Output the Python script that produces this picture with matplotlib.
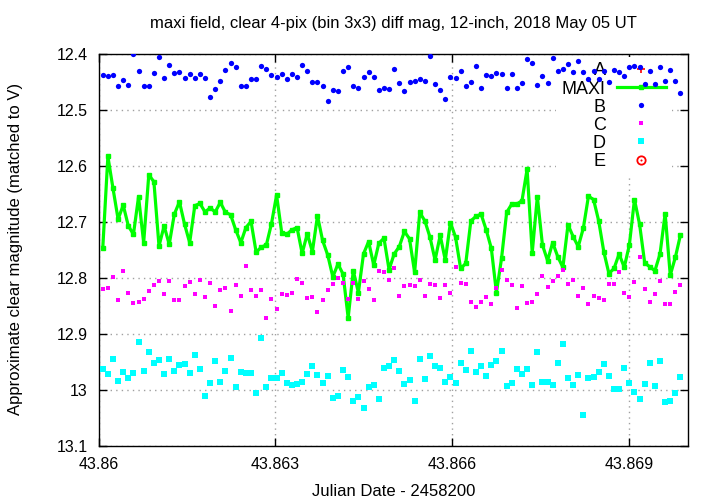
import matplotlib
matplotlib.use("Agg")
import matplotlib.pyplot as plt
import numpy as np
from matplotlib.lines import Line2D
from matplotlib.ticker import FormatStrFormatter

plt.rcParams['font.family'] = ['Liberation Sans', 'DejaVu Sans']

# frames every 7.5 s, first frame at JD 2458243.86007
T0 = 43.86007
CADENCE = 7.5 / 86400.0

maxi = [12.747, 12.583, 12.640, 12.695, 12.670, 12.707, 12.722, 12.655, 12.737, 12.616,
        12.628, 12.743, 12.707, 12.740, 12.686, 12.664, 12.704, 12.737, 12.671, 12.667,
        12.682, 12.675, 12.682, 12.665, 12.683, 12.687, 12.714, 12.737, 12.710, 12.699,
        12.754, 12.745, 12.741, 12.703, 12.652, 12.719, 12.722, 12.714, 12.710, 12.756,
        12.721, 12.753, 12.689, 12.733, 12.759, 12.798, 12.775, 12.793, 12.871, 12.787,
        12.826, 12.757, 12.735, 12.777, 12.738, 12.729, 12.785, 12.757, 12.744, 12.717,
        12.730, 12.790, 12.683, 12.698, 12.727, 12.768, 12.724, 12.768, 12.701, 12.727,
        12.783, 12.774, 12.698, 12.690, 12.686, 12.714, 12.747, 12.826, 12.765, 12.683,
        12.668, 12.668, 12.662, 12.606, 12.755, 12.655, 12.741, 12.769, 12.737, 12.762,
        12.781, 12.705, 12.726, 12.744, 12.711, 12.654, 12.660, 12.698, 12.753, 12.792,
        12.783, 12.757, 12.781, 12.741, 12.660, 12.704, 12.773, 12.780, 12.787, 12.757,
        12.685, 12.795, 12.763, 12.723]

star_b = [12.4375, 12.440, 12.4375, 12.458, 12.446, 12.455, 12.400, 12.431, 12.457, 12.457,
          12.434, 12.406, 12.443, 12.420, 12.434, 12.432, 12.443, 12.436, 12.443, 12.435,
          12.443, 12.476, 12.462, 12.449, 12.429, 12.417, 12.424, 12.457, 12.457, 12.444,
          12.444, 12.421, 12.427, 12.437, 12.442, 12.435, 12.444, 12.435, 12.441, 12.420,
          12.431, 12.450, 12.451, 12.458, 12.484, 12.464, 12.467, 12.431, 12.424, 12.457,
          12.460, 12.442, 12.433, 12.441, 12.464, 12.461, 12.463, 12.427, 12.452, 12.466,
          12.451, 12.448, 12.444, 12.449, 12.403, 12.453, 12.465, 12.480, 12.442, 12.443,
          12.430, 12.457, 12.451, 12.421, 12.461, 12.437, 12.439, 12.434, 12.435, 12.460,
          12.435, 12.461, 12.452, 12.409, 12.417, 12.455, 12.439, 12.452, 12.408, 12.430,
          12.427, 12.418, 12.432, 12.413, 12.432, 12.445, 12.430, 12.445, 12.430, 12.451,
          12.429, 12.433, 12.440, 12.424, 12.421, 12.423, 12.453, 12.430, 12.454, 12.424,
          12.449, 12.428, 12.449, 12.469]

star_c = [12.819, 12.818, 12.799, 12.840, 12.788, 12.827, 12.845, 12.842, 12.838, 12.823,
          12.813, 12.806, 12.828, 12.805, 12.839, 12.839, 12.814, 12.807, 12.829, 12.803,
          12.834, 12.809, 12.850, 12.821, 12.818, 12.859, 12.812, 12.833, 12.779, 12.821,
          12.832, 12.822, 12.871, 12.837, 12.855, 12.829, 12.830, 12.827, 12.802, 12.809,
          12.836, 12.834, 12.861, 12.840, 12.822, 12.811, 12.800, 12.809, 12.838, 12.809,
          12.838, 12.806, 12.820, 12.840, 12.788, 12.790, 12.803, 12.782, 12.832, 12.814,
          12.813, 12.814, 12.803, 12.832, 12.810, 12.812, 12.835, 12.813, 12.826, 12.780,
          12.809, 12.810, 12.843, 12.851, 12.843, 12.834, 12.847, 12.818, 12.785, 12.803,
          12.812, 12.853, 12.814, 12.844, 12.842, 12.829, 12.796, 12.816, 12.806, 12.796,
          12.786, 12.811, 12.804, 12.832, 12.818, 12.847, 12.833, 12.835, 12.840, 12.811,
          12.811, 12.789, 12.826, 12.834, 12.807, 12.763, 12.819, 12.843, 12.829, 12.805,
          12.846, 12.847, 12.825, 12.812]

star_d = [12.963, 12.972, 12.945, 12.983, 12.968, 12.979, 12.969, 12.914, 12.966, 12.932,
          12.951, 12.947, 12.972, 12.944, 12.966, 12.956, 12.953, 12.970, 12.938, 12.963,
          13.011, 12.987, 12.948, 12.985, 12.966, 12.943, 12.994, 12.968, 12.970, 12.970,
          13.005, 12.908, 12.994, 12.978, 12.978, 12.969, 12.987, 12.991, 12.989, 12.986,
          12.972, 12.957, 12.973, 12.988, 12.975, 13.015, 13.011, 12.964, 12.976, 13.020,
          13.013, 13.032, 12.994, 12.991, 13.016, 12.961, 12.958, 12.946, 12.966, 12.990,
          12.982, 13.019, 12.945, 12.980, 12.940, 12.957, 12.961, 12.985, 12.977, 12.988,
          12.951, 12.965, 12.930, 12.967, 12.957, 12.975, 12.956, 12.949, 12.930, 12.992,
          12.988, 12.963, 12.972, 12.963, 12.991, 12.933, 12.986, 12.985, 12.991, 12.951,
          12.918, 12.979, 12.991, 12.974, 13.044, 12.979, 12.976, 12.967, 12.954, 12.975,
          12.998, 12.999, 12.960, 12.988, 13.003, 13.016, 12.990, 12.952, 12.993, 12.948,
          13.021, 13.019, 13.006, 12.977]

x_ticks = [43.86, 43.863, 43.866, 43.869]
y_ticks = [12.4, 12.5, 12.6, 12.7, 12.8, 12.9, 13.0, 13.1]

jd = T0 + CADENCE * np.arange(len(maxi))

fig = plt.figure(figsize=(7.2, 5.04), dpi=100)
ax = fig.add_axes([0.137, 0.115, 0.818, 0.778])

# A and E have nothing inside the plotted range
ax.plot([], [], '+', color='red', ms=6, mew=1.2)
ax.plot(jd, maxi, '-s', color='#00ff00', lw=2.3, ms=3, zorder=3)
ax.plot(jd, star_b, 'o', color='#0000ff', ms=3.8, mew=0, zorder=3)
ax.plot(jd, star_c, 's', color='#ff00ff', ms=3.0, mew=0, zorder=3)
ax.plot(jd, star_d, 's', color='#00ffff', ms=4.4, mew=0, zorder=3)

h_a = Line2D([], [], marker='+', ls='none', color='red', ms=6, mew=1.2)
h_maxi = Line2D([], [], marker='s', ls='-', color='#00ff00', lw=2.3, ms=3)
h_b = Line2D([], [], marker='o', ls='none', color='#0000ff', ms=3.8, mew=0)
h_c = Line2D([], [], marker='s', ls='none', color='#ff00ff', ms=3.0, mew=0)
h_d = Line2D([], [], marker='s', ls='none', color='#00ffff', ms=4.4, mew=0)
h_e = (Line2D([], [], marker='o', ls='none', mfc='none', mec='red', ms=6, mew=1.3),
       Line2D([], [], marker='o', ls='none', color='red', ms=1.5, mew=0))

leg = ax.legend([h_a, h_maxi, h_b, h_c, h_d, h_e], ['A', 'MAXI', 'B', 'C', 'D', 'E'],
                loc='upper right', bbox_to_anchor=(0.973, 0.992), markerfirst=False,
                fontsize=13, handlelength=2.75, handletextpad=0.6, labelspacing=0.06,
                borderpad=0.3, borderaxespad=0, frameon=True, fancybox=False,
                facecolor='white', edgecolor='none', framealpha=1)
leg.set_zorder(2)

ax.set_xlim(43.86, 43.87)
ax.set_ylim(13.1, 12.4)
ax.set_xticks(x_ticks)
ax.set_yticks(y_ticks)
ax.xaxis.set_major_formatter(FormatStrFormatter('%g'))
ax.yaxis.set_major_formatter(FormatStrFormatter('%g'))
ax.tick_params(direction='in', length=6, width=1, top=True, right=True,
               labelsize=11.5, pad=8)
ax.grid(True, color='#a0a0a0', linestyle=(0, (1, 3)), lw=1, zorder=0)
ax.set_axisbelow(True)
for s in ax.spines.values():
    s.set_linewidth(1)

fig.text(0.547, 0.954, 'maxi field, clear 4-pix (bin 3x3) diff mag, 12-inch, 2018 May 05 UT',
         ha='center', va='center', fontsize=12)
fig.text(0.547, 0.024, 'Julian Date - 2458200', ha='center', va='center', fontsize=12)
fig.text(0.021, 0.506, 'Approximate clear magnitude (matched to V)', ha='center', va='center',
         rotation=90, fontsize=12)

fig.savefig('out.png', dpi=100)
